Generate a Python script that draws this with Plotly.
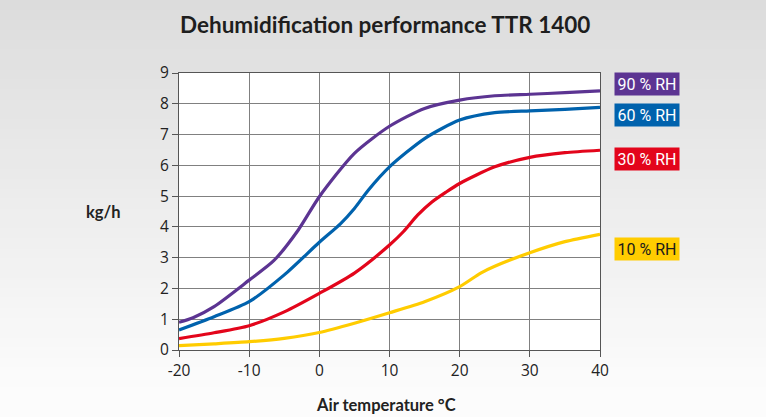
import plotly.graph_objects as go

# ---- data ----
temp_purple = [-20, -18, -15, -10, -6.5, -3, 0, 5, 10, 15, 20, 25, 30, 35, 40]
rh90 = [0.90, 1.05, 1.41, 2.27, 2.90, 3.90, 4.98, 6.39, 7.27, 7.85, 8.12, 8.26, 8.31, 8.36, 8.42]

temp_blue = [-20, -15, -10, -5, 0, 3, 5, 7, 10, 15, 20, 25, 30, 35, 40]
rh60 = [0.65, 1.08, 1.57, 2.44, 3.50, 4.10, 4.60, 5.20, 5.95, 6.87, 7.47, 7.71, 7.77, 7.82, 7.88]

temp_red = [-20, -15, -10, -5, 0, 5, 10, 12, 14, 16, 18, 20, 25, 30, 35, 40]
rh30 = [0.37, 0.56, 0.79, 1.24, 1.84, 2.50, 3.41, 3.85, 4.38, 4.80, 5.12, 5.41, 5.95, 6.26, 6.41, 6.49]

temp_yellow = [-20, -15, -10, -5, 0, 5, 10, 15, 20, 23, 25, 30, 35, 40]
rh10 = [0.14, 0.20, 0.27, 0.38, 0.57, 0.87, 1.21, 1.57, 2.06, 2.50, 2.72, 3.16, 3.52, 3.76]

series_names = ["90 % RH", "60 % RH", "30 % RH", "10 % RH"]
series_colors = ["#5c3492", "#0062ad", "#e3051b", "#ffcc00"]
label_text_colors = ["white", "white", "white", "#1a1a1a"]
label_y = [8.64, 7.63, 6.2, 3.28]

x_ticks = [-20, -10, 0, 10, 20, 30, 40]
x_tick_labels = ["-20", "-10", "0", "10", "20", "30", "40"]
y_ticks = list(range(0, 10))

title_text = "Dehumidification performance TTR 1400"
x_title = "Air temperature °C"
y_title = "kg/h"

# ---- figure ----
fig = go.Figure()
xs = [temp_purple, temp_blue, temp_red, temp_yellow]
ys = [rh90, rh60, rh30, rh10]
for x, y, name, col in zip(xs, ys, series_names, series_colors):
    fig.add_trace(go.Scatter(x=x, y=y, mode="lines", name=name,
                             line=dict(color=col, width=3.2, shape="spline", smoothing=0.7),
                             showlegend=False, hoverinfo="skip"))

# background gradient bands (paper coords)
shapes = []
W, H = 766, 417
L, R, T, B = 179, 600, 73, 350
n = 42
for i in range(n):
    py0 = H * i / n
    py1 = H * (i + 1) / n + 1
    t = min(1.0, (py0 + py1) / 2 / 390)
    v = int(round(220 + (252 - 220) * t))
    col = f"rgb({v},{v},{v})"
    shapes.append(dict(type="rect", xref="paper", yref="paper",
                       x0=(0 - L) / (R - L), x1=(W - L) / (R - L),
                       y0=(B - py1) / (B - T), y1=(B - py0) / (B - T),
                       fillcolor=col, line=dict(width=0), layer="below"))
shapes.append(dict(type="rect", xref="paper", yref="paper", x0=0, x1=1, y0=0, y1=1,
                   fillcolor="white", line=dict(width=0), layer="below"))

annotations = []
for name, col, tc, yv in zip(series_names, series_colors, label_text_colors, label_y):
    annotations.append(dict(text=name, xref="paper", yref="y", x=(647 - L) / (R - L), y=yv,
                            xanchor="center", yanchor="middle", showarrow=False,
                            font=dict(family="Roboto", size=16, color=tc),
                            bgcolor=col, width=62, height=20, borderpad=1))
annotations.append(dict(text=f"<b>{y_title}</b>", xref="paper", yref="paper",
                        x=(103 - L) / (R - L), y=(B - 212) / (B - T),
                        xanchor="center", yanchor="middle", showarrow=False,
                        font=dict(family="Lato", size=16.5, color="#222")))
annotations.append(dict(text=f"<b>{x_title}</b>", xref="paper", yref="paper",
                        x=(386 - L) / (R - L), y=(B - 405) / (B - T),
                        xanchor="center", yanchor="middle", showarrow=False,
                        font=dict(family="Lato", size=16.5, color="#222")))
annotations.append(dict(text=f"<b>{title_text}</b>", xref="paper", yref="paper",
                        x=(385 - L) / (R - L), y=(B - 25) / (B - T),
                        xanchor="center", yanchor="middle", showarrow=False,
                        font=dict(family="Lato", size=22.5, color="#1e1e1e")))

fig.update_layout(
    width=W, height=H,
    margin=dict(l=L, r=W - R, t=T, b=H - B, pad=0),
    paper_bgcolor="#e6e6e6", plot_bgcolor="white",
    shapes=shapes, annotations=annotations,
    xaxis=dict(range=[-20, 40], tickvals=x_ticks, ticktext=x_tick_labels,
               showgrid=True, gridcolor="#808080", gridwidth=1,
               showline=True, linecolor="#555", linewidth=1, mirror=True,
               ticks="outside", ticklen=6, tickcolor="#555",
               tickfont=dict(family="Open Sans", size=15.5, color="#222"), zeroline=False, fixedrange=True),
    yaxis=dict(range=[0, 9], tickvals=y_ticks, showgrid=True, gridcolor="#808080", gridwidth=1,
               showline=True, linecolor="#555", linewidth=1, mirror=True,
               ticks="outside", ticklen=6, tickcolor="#555",
               tickfont=dict(family="Open Sans", size=15.5, color="#222"), zeroline=False, fixedrange=True),
)

fig.write_html("out.html", config={"displayModeBar": False},
               post_script="document.body.style.margin='0';document.body.style.overflow='hidden';")
